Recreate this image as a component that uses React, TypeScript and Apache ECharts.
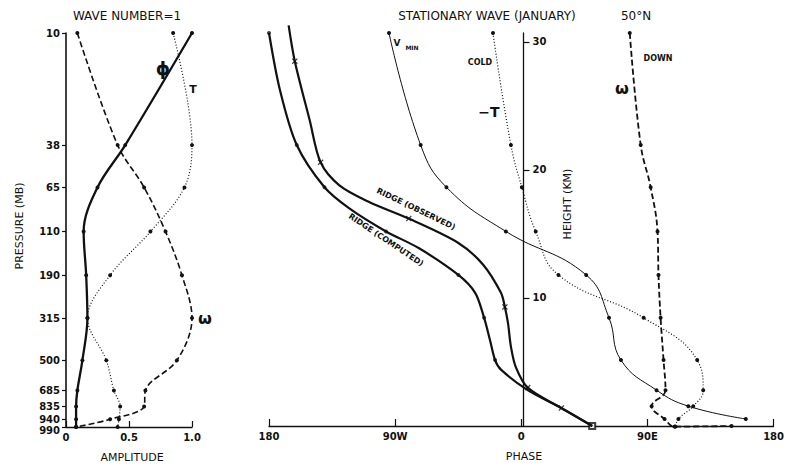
import React, { useEffect, useRef } from "react";
import * as echarts from "echarts";

// ---------- DATA ----------
// Pressure levels (mb) and their heights (km) as placed on the height scale
const levels = ["10", "38", "65", "110", "190", "315", "500", "685", "835", "940", "990"];
const levelHeightKm = [30.7, 21.95, 18.65, 15.2, 11.8, 8.45, 5.15, 2.8, 1.55, 0.55, -0.05];

// Left panel: amplitude (wave number = 1), one value per pressure level
const phiAmplitude = [1.0, 0.47, 0.25, 0.14, 0.16, 0.17, 0.13, 0.09, 0.08, 0.08, 0.08];
const tempAmplitude = [0.85, 1.0, 0.94, 0.67, 0.35, 0.17, 0.32, 0.38, 0.43, 0.42, 0.41];
const omegaAmplitude = [0.09, 0.41, 0.62, 0.79, 0.92, 1.0, 0.88, 0.63, 0.62, 0.35, 0.08];
const amplitudeTicks = ["0", "0.5", "1.0"];

// Right panel: phase (deg, west negative) of the stationary wave
const vMinPhase = [-94.4, -71.8, -53.4, -11.0, 46.3, 62.6, 71.1, 96.5, 119.2, 160.2];
const negTPhase = [-20.2, -7.4, 0.4, 10.3, 26.5, 87.3, 125.5, 129.8, 122.7, 112.1, 110.0];
const omegaPhase = [77.4, 85.2, 92.3, 97.2, 97.9, 99.4, 101.5, 102.9, 93.0, 102.2, 109.3];
const omegaSurfacePhase = 150;
const omegaSurfaceHeight = 0;

// Ridge (computed): curve and level points
const ridgeCompCurvePhase = [-180, -172.2, -160.2, -140.4, -122.7, -96.5, -73.2, -44.9, -32.9, -26.5, -22.3, -18.7, -14.5, 4.6, 28.6, 50.6];
const ridgeCompCurveHeight = [30.7, 26.25, 21.95, 18.65, 17.0, 15.2, 13.9, 11.8, 10.4, 8.45, 6.7, 5.15, 4.4, 2.8, 1.4, 0];
const ridgeCompPointPhase = [-180, -160.2, -140.4, -96.5, -44.9, -26.5, -18.7];
const ridgeCompPointHeight = [30.7, 21.95, 18.65, 15.2, 11.8, 8.45, 5.15];

// Ridge (observed): curve and observation points
const ridgeObsCurvePhase = [-166, -161.6, -151, -143.2, -129.8, -108.6, -80.3, -44.9, -27.2, -14.5, -11.7, -9.5, -7.4, -3.9, 4.6, 28.6, 50.6];
const ridgeObsCurveHeight = [31.3, 28.5, 23.9, 20.6, 18.8, 17.5, 16.2, 14.3, 12.6, 10.4, 9.3, 8.05, 6.2, 4.6, 3.0, 1.4, 0];
const ridgeObsPointPhase = [-166, -161.6, -143.2, -80.3, -11.7, 4.6, 28.6];
const ridgeObsPointHeight = [31.3, 28.5, 20.6, 16.2, 9.3, 3.0, 1.4];
const ridgeSurfacePhase = 50.6;
const ridgeSurfaceHeight = 0;

const phaseTicks = ["180", "90W", "0", "90E", "180"];
const heightTicks = [10, 20, 30];

// ---------- STYLE ----------
const INK = "#111";
const FONT = "DejaVu Sans";
const CROSS = "path://M0,1.5L1.5,0L5,3.5L8.5,0L10,1.5L6.5,5L10,8.5L8.5,10L5,6.5L1.5,10L0,8.5L3.5,5Z";

const zip = (a: number[], b: number[]) => a.map((v, i) => [v, b[i]]);
const levelLabel = (v: number) => {
  const i = levelHeightKm.findIndex((h) => Math.abs(h - v) < 1e-6);
  return i >= 0 ? levels[i] : "";
};

function txt(text: string, x: number, y: number, fontSize: number, extra: any = {}) {
  const { rotation, fontWeight, fontStyle } = extra;
  return {
    type: "text",
    x,
    y,
    rotation: rotation || 0,
    silent: true,
    style: {
      text,
      fill: INK,
      fontFamily: FONT,
      fontSize,
      fontWeight: fontWeight || "normal",
      fontStyle: fontStyle || "normal",
      align: "center",
      verticalAlign: "middle",
    },
  };
}

export default function App() {
  const ref = useRef<HTMLDivElement>(null);

  useEffect(() => {
    if (!ref.current) return;
    const chart = echarts.init(ref.current, null, { renderer: "svg" });

    const axisLabelBase = { color: INK, fontFamily: FONT, fontSize: 10, fontWeight: "bold" };
    const upperLevels = levelHeightKm.slice(0, levelHeightKm.length - 1);
    const bottomLevel = levelHeightKm.slice(levelHeightKm.length - 1);

    const option: any = {
      animation: false,
      backgroundColor: "#fff",
      grid: [
        { left: 66, top: 33, width: 126, bottom: 40 },
        { left: 269, top: 33, width: 509, bottom: 41 },
        { left: 269, top: 33, width: 254.5, bottom: 41 },
      ],
      xAxis: [
        {
          gridIndex: 0,
          type: "value",
          min: 0,
          max: 1,
          interval: 0.5,
          axisLine: { onZero: false, lineStyle: { color: INK, width: 1.3 } },
          axisTick: { inside: true, length: 6, lineStyle: { color: INK, width: 1.2 } },
          splitLine: { show: false },
          axisLabel: {
            ...axisLabelBase,
            margin: 5,
            formatter: (v: number) => amplitudeTicks[Math.round(v / 0.5)] ?? "",
          },
        },
        {
          gridIndex: 1,
          type: "value",
          min: -180,
          max: 180,
          interval: 90,
          axisLine: { onZero: false, lineStyle: { color: INK, width: 1.3 } },
          axisTick: { inside: true, length: 7, lineStyle: { color: INK, width: 1.2 } },
          splitLine: { show: false },
          axisLabel: {
            ...axisLabelBase,
            margin: 5,
            formatter: (v: number) => phaseTicks[Math.round((v + 180) / 90)] ?? "",
          },
        },
        {
          gridIndex: 2,
          type: "value",
          min: 0,
          max: 1,
          show: false,
        },
      ],
      yAxis: [
        {
          gridIndex: 0,
          type: "value",
          min: -0.05,
          max: 30.7,
          axisLine: { show: true, onZero: false, lineStyle: { color: INK, width: 1.6 } },
          axisTick: { show: true, length: 4, customValues: upperLevels, lineStyle: { color: INK, width: 1.2 } },
          splitLine: { show: false },
          axisLabel: {
            ...axisLabelBase,
            margin: 6,
            lineHeight: 10,
            showMinLabel: true,
            showMaxLabel: true,
            customValues: upperLevels,
            formatter: levelLabel,
          },
        },
        {
          gridIndex: 1,
          type: "value",
          min: 0,
          max: 30.7,
          show: false,
        },
        {
          gridIndex: 2,
          type: "value",
          position: "right",
          min: 0,
          max: 30.7,
          axisLine: { show: true, onZero: false, lineStyle: { color: INK, width: 1.3 } },
          axisTick: { show: true, length: 6, customValues: heightTicks, lineStyle: { color: INK, width: 1.2 } },
          splitLine: { show: false },
          axisLabel: {
            ...axisLabelBase,
            margin: 9,
            customValues: heightTicks,
            formatter: (v: number) => (heightTicks.indexOf(v) >= 0 ? String(v) : ""),
          },
        },
        {
          // second label layer on the left axis for the lowest level (990 mb), set just below the axis
          gridIndex: 0,
          type: "value",
          position: "left",
          min: -0.05,
          max: 30.7,
          axisLine: { show: false, onZero: false },
          axisTick: { show: true, length: 4, customValues: bottomLevel, lineStyle: { color: INK, width: 1.2 } },
          splitLine: { show: false },
          axisLabel: {
            ...axisLabelBase,
            margin: 6,
            verticalAlign: "top",
            lineHeight: 6,
            showMinLabel: true,
            customValues: bottomLevel,
            formatter: levelLabel,
          },
        },
      ],
      series: [
        // ----- left panel -----
        {
          type: "line",
          xAxisIndex: 0,
          yAxisIndex: 0,
          data: zip(phiAmplitude, levelHeightKm),
          smooth: 0.35,
          clip: false,
          symbol: "circle",
          symbolSize: 4,
          itemStyle: { color: INK },
          lineStyle: { color: INK, width: 2.3 },
        },
        {
          type: "line",
          xAxisIndex: 0,
          yAxisIndex: 0,
          data: zip(tempAmplitude, levelHeightKm),
          smooth: 0.35,
          clip: false,
          symbol: "circle",
          symbolSize: 4,
          itemStyle: { color: INK },
          lineStyle: { color: INK, width: 1.2, type: [1, 2] },
        },
        {
          type: "line",
          xAxisIndex: 0,
          yAxisIndex: 0,
          data: zip(omegaAmplitude, levelHeightKm),
          smooth: 0.35,
          clip: false,
          symbol: "circle",
          symbolSize: 4,
          itemStyle: { color: INK },
          lineStyle: { color: INK, width: 1.6, type: [6, 3] },
        },
        // ----- right panel -----
        {
          type: "line",
          xAxisIndex: 1,
          yAxisIndex: 1,
          data: zip(ridgeCompCurvePhase, ridgeCompCurveHeight),
          smooth: 0.3,
          clip: false,
          symbol: "none",
          lineStyle: { color: INK, width: 2.2 },
        },
        {
          type: "scatter",
          xAxisIndex: 1,
          yAxisIndex: 1,
          data: zip(ridgeCompPointPhase, ridgeCompPointHeight),
          symbol: "circle",
          symbolSize: 4,
          itemStyle: { color: INK },
        },
        {
          type: "line",
          xAxisIndex: 1,
          yAxisIndex: 1,
          data: zip(ridgeObsCurvePhase, ridgeObsCurveHeight),
          smooth: 0.3,
          clip: false,
          symbol: "none",
          lineStyle: { color: INK, width: 2.2 },
        },
        {
          type: "scatter",
          xAxisIndex: 1,
          yAxisIndex: 1,
          data: zip(ridgeObsPointPhase, ridgeObsPointHeight),
          symbol: CROSS,
          symbolSize: 6,
          itemStyle: { color: INK },
        },
        {
          type: "scatter",
          xAxisIndex: 1,
          yAxisIndex: 1,
          data: [[ridgeSurfacePhase, ridgeSurfaceHeight]],
          symbol: "emptyRect",
          symbolSize: 6,
          itemStyle: { color: INK, borderColor: INK, borderWidth: 1.2 },
        },
        {
          type: "line",
          xAxisIndex: 1,
          yAxisIndex: 1,
          data: zip(vMinPhase, levelHeightKm.slice(0, vMinPhase.length)),
          smooth: 0.45,
          clip: false,
          symbol: "circle",
          symbolSize: 4,
          itemStyle: { color: INK },
          lineStyle: { color: INK, width: 1 },
        },
        {
          type: "line",
          xAxisIndex: 1,
          yAxisIndex: 1,
          data: zip(negTPhase, levelHeightKm),
          smooth: 0.45,
          clip: false,
          symbol: "circle",
          symbolSize: 4,
          itemStyle: { color: INK },
          lineStyle: { color: INK, width: 1.2, type: [1, 2] },
        },
        {
          type: "line",
          xAxisIndex: 1,
          yAxisIndex: 1,
          data: [...zip(omegaPhase, levelHeightKm), [omegaSurfacePhase, omegaSurfaceHeight]],
          smooth: 0.4,
          clip: false,
          symbol: "circle",
          symbolSize: 4,
          itemStyle: { color: INK },
          lineStyle: { color: INK, width: 1.8, type: [6, 3] },
        },
      ],
      graphic: [
        txt("WAVE NUMBER=1", 127, 16, 12),
        txt("STATIONARY WAVE (JANUARY)", 487, 16, 12),
        txt("50°N", 636, 16, 12),
        txt("PRESSURE (MB)", 19, 226, 11, { rotation: Math.PI / 2 }),
        txt("AMPLITUDE", 132, 457, 11),
        txt("PHASE", 524, 456, 11),
        txt("HEIGHT (KM)", 567, 204, 11, { rotation: Math.PI / 2 }),
        txt("ϕ", 163, 68, 18, { fontWeight: "bold" }),
        txt("T", 193, 89, 11, { fontWeight: "bold" }),
        txt("ω", 205, 318, 16, { fontWeight: "bold" }),
        txt("V", 397, 43, 9, { fontWeight: "bold" }),
        txt("MIN", 412, 47, 6, { fontWeight: "bold" }),
        txt("COLD", 480, 62, 8, { fontWeight: "bold" }),
        txt("−T", 489, 112, 14, { fontWeight: "bold" }),
        txt("DOWN", 658, 58, 8, { fontWeight: "bold" }),
        txt("ω", 622, 88, 16, { fontWeight: "bold" }),
        txt("RIDGE (OBSERVED)", 416, 209, 8, { fontWeight: "bold", rotation: -0.45 }),
        txt("RIDGE (COMPUTED)", 386, 240, 8, { fontWeight: "bold", rotation: -0.59 }),
      ],
    };

    chart.setOption(option);
    return () => chart.dispose();
  }, []);

  return (
    <div
      ref={ref}
      style={{ position: "fixed", left: 0, top: 0, width: 787, height: 467 }}
    />
  );
}
